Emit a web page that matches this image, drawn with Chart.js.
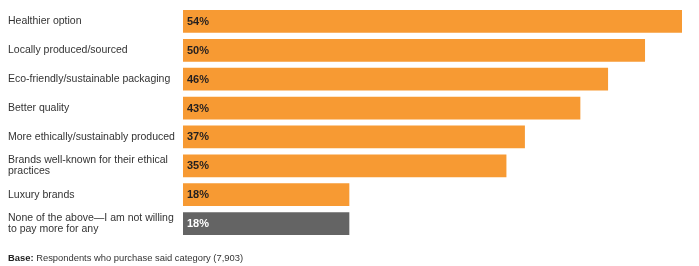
<!DOCTYPE html>
<html>
<head>
<meta charset="utf-8">
<script src="https://cdn.jsdelivr.net/npm/chart.js@4/dist/chart.umd.min.js"></script>
<style>
  html, body { margin: 0; padding: 0; background: #fff; }
  #wrap { position: relative; width: 699px; height: 266px; }
  #note { position: absolute; left: 8px; top: 252px; font-family: "Liberation Sans", Arial, sans-serif; font-size: 9.4px; color: #333; white-space: nowrap; }
  #note b { color: #222; }
</style>
</head>
<body>
<div id="wrap">
  <canvas id="c" width="699" height="266"></canvas>
  <div id="note"><b>Base:</b> Respondents who purchase said category (7,903)</div>
</div>
<script>
const categories = [
  "Healthier option",
  "Locally produced/sourced",
  "Eco-friendly/sustainable packaging",
  "Better quality",
  "More ethically/sustainably produced",
  ["Brands well-known for their ethical", "practices"],
  "Luxury brands",
  ["None of the above\u2014I am not willing", "to pay more for any"]
];
const values = [54, 50, 46, 43, 37, 35, 18, 18];
const barColors = ["#F79A33", "#F79A33", "#F79A33", "#F79A33", "#F79A33", "#F79A33", "#F79A33", "#646464"];
const labelColors = ["#231F20", "#231F20", "#231F20", "#231F20", "#231F20", "#231F20", "#231F20", "#FFFFFF"];

const valueLabels = {
  id: 'valueLabels',
  afterDatasetsDraw(chart) {
    const ctx = chart.ctx;
    const meta = chart.getDatasetMeta(0);
    ctx.save();
    ctx.font = 'bold 11px "Liberation Sans", Arial, sans-serif';
    ctx.textBaseline = 'middle';
    ctx.textAlign = 'left';
    meta.data.forEach((bar, i) => {
      ctx.fillStyle = labelColors[i];
      ctx.fillText(values[i] + '%', bar.base + 4, bar.y + 0.5);
    });
    ctx.restore();
  }
};

new Chart(document.getElementById('c'), {
  type: 'bar',
  data: {
    labels: categories,
    datasets: [{
      data: values,
      backgroundColor: barColors,
      borderWidth: 0,
      barPercentage: 0.785,
      categoryPercentage: 1
    }]
  },
  options: {
    indexAxis: 'y',
    responsive: false,
    animation: false,
    layout: { padding: { top: 7, bottom: 28, left: 8, right: 17 } },
    plugins: { legend: { display: false }, tooltip: { enabled: false } },
    scales: {
      x: { display: false, min: 0, max: 54 },
      y: {
        grid: { display: false },
        border: { display: false },
        afterFit(scale) { scale.width = 175; scale.paddingTop = 0; scale.paddingBottom = 0; },
        ticks: {
          crossAlign: 'far',
          padding: 0,
          color: '#333333',
          font: { family: '"Liberation Sans", Arial, sans-serif', size: 10.5, lineHeight: 1.1 }
        }
      }
    }
  },
  plugins: [valueLabels]
});
</script>
</body>
</html>
